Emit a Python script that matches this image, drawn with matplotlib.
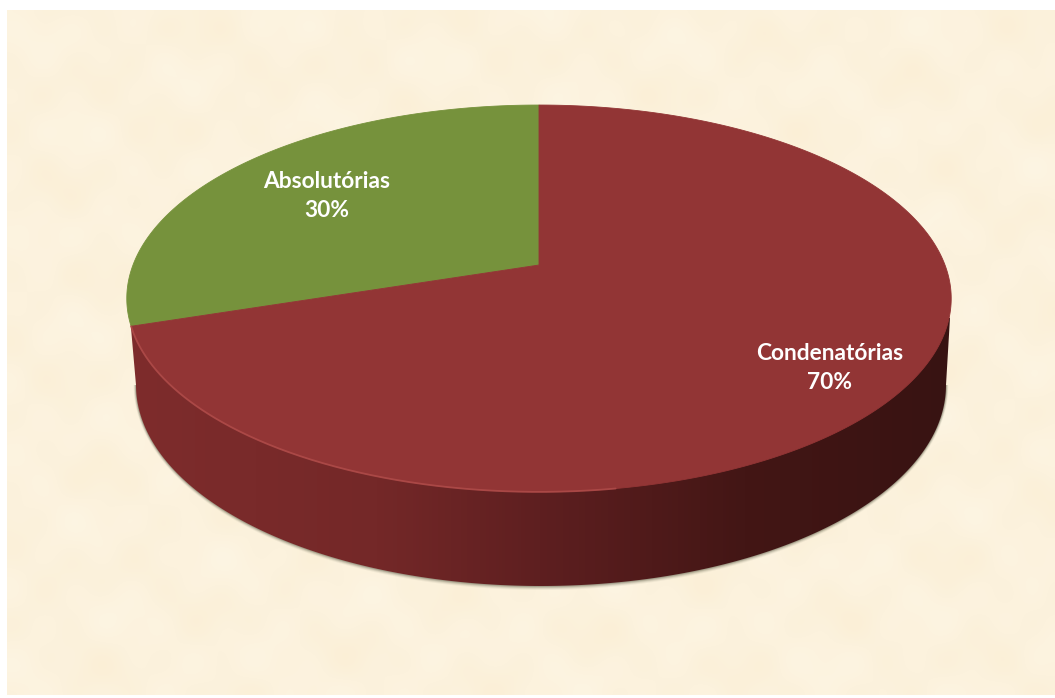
import numpy as np
import matplotlib
matplotlib.use("Agg")
import matplotlib.pyplot as plt
from matplotlib.patches import Polygon
from matplotlib.colors import LinearSegmentedColormap

categories = ["Absolutórias", "Condenatórias"]
shares = [30, 70]
slice_colors = ["#76923C", "#923535"]
label_text_pos = [(327, 196), (830, 368)]

W, H = 1055, 698
fig = plt.figure(figsize=(W / 100, H / 100), dpi=100, facecolor="white")
ax = fig.add_axes([0, 0, 1, 1])
ax.set_xlim(0, W)
ax.set_ylim(H, 0)
ax.axis("off")

# soft parchment background
yy, xx = np.mgrid[0:86, 0:132]
tex = (np.sin(xx * 0.31 + yy * 0.13) * np.sin(yy * 0.37 - xx * 0.07)
       + 0.7 * np.sin(xx * 0.83 + 1.3) * np.sin(yy * 0.71 + 0.4)
       + 0.5 * np.sin(xx * 0.17 - yy * 0.53 + 2.1))
bg_cmap = LinearSegmentedColormap.from_list("bg", ["#FBEFD6", "#FCF2DD", "#FDF5E3"])
ax.imshow(tex, cmap=bg_cmap, extent=(7, W, 695, 10), aspect="auto",
          interpolation="bicubic", zorder=0)
ax.set_xlim(0, W)
ax.set_ylim(H, 0)


def project(theta):
    """Perspective view of the unit disc; theta is clockwise from the top."""
    x, y = np.sin(theta), np.cos(theta)
    d = 0.173 * y + 1
    return 539 + 406 * x / d, (265 - 141.8 * y) / d


# lower rim of the side wall
t = np.linspace(0, np.pi, 300)
low_x = 541 - 405 * np.cos(t)
low_y = 385 + 201 * np.sin(t)

# soft shadow below the wall
for off, alpha in [(4, 0.07), (3, 0.12), (2, 0.2), (1, 0.3)]:
    ax.add_patch(Polygon(np.c_[low_x - off * 0.6 * np.cos(t), low_y + off * np.sin(t)],
                         closed=True, fc="#5c5c48", ec="none", alpha=alpha, zorder=1))

# side wall with a horizontal gradient
wall = np.r_[[[131, 328]], np.c_[low_x, low_y], [[950, 318]], [[539, 300]]]
side_cmap = LinearSegmentedColormap.from_list(
    "side", [(0, "#7E2C2C"), (0.3, "#742828"), (0.5, "#5E1F20"),
             (0.75, "#431615"), (1, "#381312")])
im = ax.imshow(np.linspace(0, 1, 256)[None, :], cmap=side_cmap,
               extent=(131, 950, 600, 300), aspect="auto", zorder=2)
clip = Polygon(wall, closed=True, fc="none", ec="none", transform=ax.transData)
ax.add_patch(clip)
im.set_clip_path(clip)
ax.set_xlim(0, W)
ax.set_ylim(H, 0)

# top face, one polygon per share
fractions = np.array(shares, dtype=float) / sum(shares)
start = 2 * np.pi * (1 - fractions[0])
for frac, color, a0 in [(fractions[0], slice_colors[0], start),
                        (fractions[1], slice_colors[1], 0.0)]:
    th = np.linspace(a0, a0 + 2 * np.pi * frac, 400)
    px, py = project(th)
    ax.add_patch(Polygon(np.r_[[[539, 265]], np.c_[px, py]], closed=True,
                         fc=color, ec=color, lw=0.6, zorder=3))

# light highlight on the front-left rim of the top face
th = np.linspace(np.pi * 0.95, 2 * np.pi * (1 - fractions[0]), 300)
px, py = project(th)
ax.plot(px, py, color="#B04C4A", lw=1.3, alpha=0.85, zorder=4, solid_capstyle="round")

for cat, val, (lx, ly) in zip(categories, shares, label_text_pos):
    ax.text(lx, ly, f"{cat}\n{val}%", color="white", fontsize=16.4,
            fontweight="bold", family="Lato", ha="center", va="center",
            linespacing=1.5, zorder=5)

fig.savefig("out.png", dpi=100, facecolor="white")
